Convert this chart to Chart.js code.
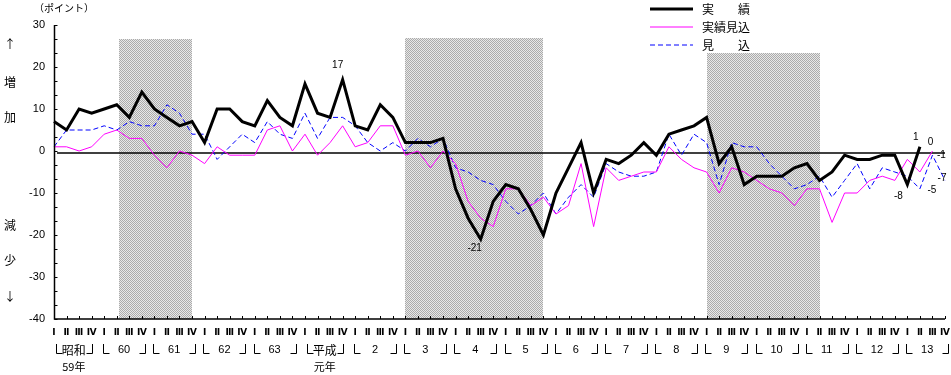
<!DOCTYPE html>
<html>
<head>
<meta charset="utf-8">
<script src="https://cdn.jsdelivr.net/npm/chart.js@4.4.1/dist/chart.umd.min.js"></script>
<style>
  html, body { margin: 0; padding: 0; background: #fff; }
  canvas { display: block; }
</style>
</head>
<body>
<canvas id="chart" width="951" height="375"></canvas>
<script>
// years on the axis (昭和59 .. 平成13), four quarters each
const years = ['昭和', '60', '61', '62', '63', '平成', '2', '3', '4', '5', '6', '7', '8', '9', '10', '11', '12', '13']
const yearNotes = ['59年', '', '', '', '', '元年', '', '', '', '', '', '', '', '', '', '', '', '']
const quarters = ['Ⅰ', 'Ⅱ', 'Ⅲ', 'Ⅳ']

// 実績
const actual = [
  7, 5, 10, 9, 10, 11, 8, 14, 10, 8,
  6, 7, 2, 10, 10, 7, 6, 12, 8, 6,
  16, 9, 8, 17, 6, 5, 11, 8, 2, 2,
  2, 3, -9, -16, -21, -12, -8, -9, -14, -20,
  -10, -4, 2, -10, -2, -3, -1, 2, -1, 4,
  5, 6, 8, -3, 1, -8, -6, -6, -6, -4,
  -3, -7, -5, -1, -2, -2, -1, -1, -8, 1
]
// 実績見込
const estimate = [
  1, 1, 0, 1, 4, 5, 3, 3, -1, -4,
  0, -1, -3, 1, -1, -1, -1, 5, 6, 0,
  4, -1, 2, 6, 1, 2, 6, 6, -1, 0,
  -4, 0, -3, -12, -16, -18, -9, -9, -13, -11,
  -15, -13, -3, -18, -4, -7, -6, -5, -5, 1,
  -2, -4, -5, -10, -4, -5, -7, -9, -10, -13,
  -9, -9, -17, -10, -10, -7, -6, -7, -2, -5,
  0
]
// 見込
const forecast = [
  1, 5, 5, 5, 6, 5, 7, 6, 6, 11,
  9, 4, 4, -2, 1, 4, 2, 7, 4, 3,
  9, 3, 8, 8, 6, 2, 0, 2, 0, 3,
  1, 3, -4, -5, -7, -8, -12, -15, -13, -10,
  -15, -11, -8, -11, -3, -5, -6, -6, -5, 4,
  -1, 4, 2, -8, 2, 1, 1, -3, -6, -9,
  -8, -6, -11, -7, -3, -9, -4, -5, -6, -9,
  -1, -7
]

const yTicks = [30, 20, 10, 0, -10, -20, -30, -40]
// shaded periods: from quarter index, to quarter index, top value
const shadeFrom = [5.2, 28, 52]
const shadeTo = [11, 39, 61]
const shadeTop = [26.7, 26.9, 23.4]

// value notes: text, series, quarter index
const noteText = ['17', '-21', '-8', '1', '0', '-1', '-7', '-5']
const noteSeries = [0, 0, 0, 0, 1, 2, 2, 1]
const noteIndex = [23, 34, 68, 69, 70, 70, 71, 69]
const noteShift = [[-5, -14], [-6, 9], [-9, 12], [-4, -10], [-2, -9], [9, 0], [-3, -2], [12, 18]]

const labels = []
years.forEach(y => quarters.forEach(q => labels.push(y + q)))

const JP = '"Noto Sans CJK JP", sans-serif'
const NUM = '"Liberation Sans", Arial, sans-serif'

const pat = document.createElement('canvas')
pat.width = 2
pat.height = 2
const pctx = pat.getContext('2d')
pctx.fillStyle = '#e8e8e8'
pctx.fillRect(0, 0, 2, 2)
pctx.fillStyle = '#ababab'
pctx.fillRect(0, 0, 1, 1)
pctx.fillRect(1, 1, 1, 1)

const backdrop = {
  id: 'backdrop',
  beforeDatasetsDraw (chart) {
    const ctx = chart.ctx
    const x = chart.scales.x
    const y = chart.scales.y
    ctx.save()
    ctx.fillStyle = ctx.createPattern(pat, 'repeat')
    for (let i = 0; i < shadeFrom.length; i++) {
      const x0 = Math.round(x.getPixelForValue(shadeFrom[i]))
      const x1 = Math.round(x.getPixelForValue(shadeTo[i]))
      const y0 = Math.round(y.getPixelForValue(shadeTop[i]))
      ctx.fillRect(x0, y0, x1 - x0, y.bottom - y0)
    }
    // zero line
    ctx.strokeStyle = '#000'
    ctx.lineWidth = 1.5
    ctx.beginPath()
    ctx.moveTo(x.left + 3, y.getPixelForValue(0) + 2)
    ctx.lineTo(x.right, y.getPixelForValue(0) + 2)
    ctx.stroke()
    ctx.restore()
  }
}

const frame = {
  id: 'frame',
  afterDatasetsDraw (chart) {
    const ctx = chart.ctx
    const x = chart.scales.x
    const y = chart.scales.y
    const left = x.left + 0.5
    ctx.save()
    ctx.strokeStyle = '#000'
    ctx.lineWidth = 1.5
    ctx.beginPath()
    ctx.moveTo(left, y.getPixelForValue(30))
    ctx.lineTo(left, y.bottom)
    ctx.lineTo(x.right, y.bottom)
    ctx.stroke()

    // inward ticks
    ctx.lineWidth = 1
    ctx.beginPath()
    for (let v = -40; v <= 30.01; v += 10 / 3) {
      const py = Math.round(y.getPixelForValue(v)) + 0.5
      ctx.moveTo(left, py)
      ctx.lineTo(left + 3, py)
    }
    for (let i = 0; i < labels.length; i++) {
      const px = Math.round(x.getPixelForValue(i)) + 0.5
      ctx.moveTo(px, y.bottom)
      ctx.lineTo(px, y.bottom - 3)
    }
    ctx.stroke()

    ctx.fillStyle = '#000'
    // y tick labels
    ctx.font = '11px ' + NUM
    ctx.textAlign = 'right'
    ctx.textBaseline = 'middle'
    yTicks.forEach(v => ctx.fillText(String(v), 45, y.getPixelForValue(v)))

    // unit and side captions
    ctx.textAlign = 'left'
    ctx.font = '10px ' + JP
    ctx.fillText('（ポイント）', 34, 8)
    ctx.textAlign = 'center'
    ctx.font = '12px ' + JP
    const side = [['↑', 44], ['増', 82], ['加', 117], ['減', 225], ['少', 260], ['↓', 296]]
    side.forEach(s => ctx.fillText(s[0], 10, s[1]))

    // quarter numerals
    ctx.font = 'bold 9px "DejaVu Sans", ' + JP
    for (let i = 0; i < labels.length; i++) {
      ctx.fillText(quarters[i % 4], x.getPixelForValue(i), 333)
    }
    // years with bracket marks
    ctx.lineWidth = 1
    years.forEach((yr, k) => {
      const cx = (x.getPixelForValue(k * 4) + x.getPixelForValue(k * 4 + 3)) / 2 + 1
      const half = /\d/.test(yr) ? 21 : 18
      ctx.font = (/\d/.test(yr) ? '11px ' + NUM : '12px ' + JP)
      ctx.fillText(yr, cx, 350)
      const bl = Math.round(cx - half) + 0.5
      const br = Math.round(cx + half) + 0.5
      ctx.beginPath()
      ctx.moveTo(bl, 344)
      ctx.lineTo(bl, 353.5)
      ctx.lineTo(bl + 6, 353.5)
      ctx.moveTo(br, 344)
      ctx.lineTo(br, 353.5)
      ctx.lineTo(br - 6, 353.5)
      ctx.stroke()
      if (yearNotes[k]) {
        ctx.font = '11px ' + JP
        ctx.fillText(yearNotes[k], cx, 367)
      }
    })

    // value notes
    ctx.font = '10px ' + NUM
    const sets = [actual, estimate, forecast]
    noteText.forEach((t, k) => {
      const i = noteIndex[k]
      const px = x.getPixelForValue(i) + noteShift[k][0]
      const py = y.getPixelForValue(sets[noteSeries[k]][i]) + noteShift[k][1]
      ctx.fillText(t, px, py)
    })

    // legend
    ctx.textAlign = 'left'
    ctx.font = '12px ' + JP
    chart.data.datasets.forEach((ds, k) => {
      const ly = 9 + k * 18
      ctx.strokeStyle = ds.borderColor
      ctx.lineWidth = ds.borderWidth
      ctx.setLineDash(ds.borderDash || [])
      ctx.beginPath()
      ctx.moveTo(650, ly)
      ctx.lineTo(693, ly)
      ctx.stroke()
      ctx.setLineDash([])
      ctx.fillText(ds.label, 702, ly)
    })
    ctx.restore()
  }
}

new Chart(document.getElementById('chart'), {
  type: 'line',
  data: {
    labels: labels,
    datasets: [
      { label: '実　　績', data: actual, borderColor: '#000000', borderWidth: 3 },
      { label: '実績見込', data: estimate, borderColor: '#ff00ff', borderWidth: 1 },
      { label: '見　　込', data: forecast, borderColor: '#0000ff', borderWidth: 1, borderDash: [5, 3] }
    ]
  },
  options: {
    responsive: false,
    animation: false,
    devicePixelRatio: 1,
    layout: { padding: { left: 54, right: 6, top: 25, bottom: 56 } },
    scales: {
      x: { display: false, offset: false },
      y: { display: false, min: -40, max: 30 }
    },
    elements: {
      point: { radius: 0 },
      line: { tension: 0, fill: false, borderJoinStyle: 'miter' }
    },
    plugins: { legend: { display: false }, tooltip: { enabled: false } }
  },
  plugins: [backdrop, frame]
})
</script>
</body>
</html>
